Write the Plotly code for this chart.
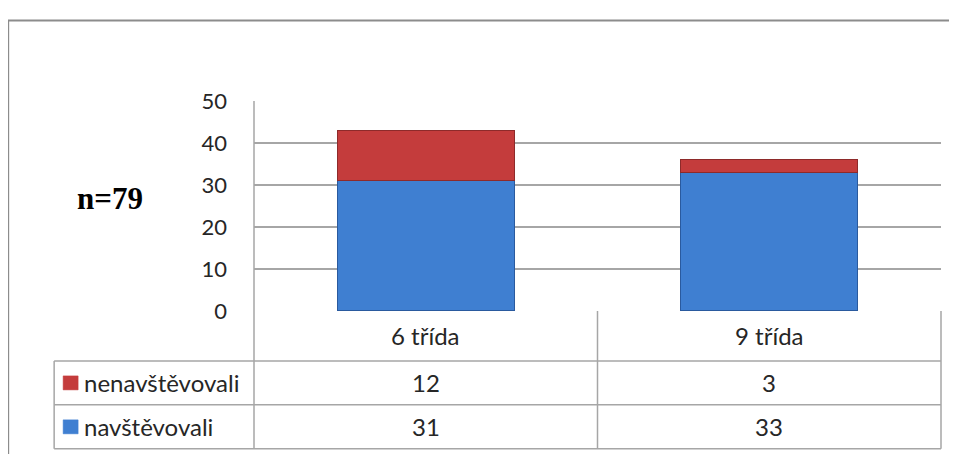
import plotly.graph_objects as go

# Data
categories = ['6 třída', '9 třída']
navstevovali = [31, 33]
nenavstevovali = [12, 3]
y_ticks = [0, 10, 20, 30, 40, 50]
sample_note = 'n=79'

# page has an 8px body margin, so the figure is 8px smaller and shifted
OFF = 8
W, H = 957 - OFF, 454 - OFF
L, R, T, B = 254 - OFF, 941.5 - OFF, 100.7 - OFF, 311 - OFF  # plot area in figure pixels


def px(x):
    return (x - OFF - L) / (R - L)


def py(y):
    return (B - (y - OFF)) / (B - T)


GRID = '#A6A6A6'
TXT = '#262626'
FONT = 'Lato'
RED = '#C43C3C'
BLUE = '#3F7FD1'

fig = go.Figure()
fig.add_trace(go.Bar(x=categories, y=navstevovali, name='navštěvovali',
                     width=0.515,
                     marker=dict(color=BLUE, line=dict(color='#2A5A9E', width=1.2))))
fig.add_trace(go.Bar(x=categories, y=nenavstevovali, name='nenavštěvovali',
                     width=0.515,
                     marker=dict(color=RED, line=dict(color='#8E2A2A', width=1.2))))

shapes = []
# outer frame (cut off at right/bottom)
shapes.append(dict(type='rect', xref='paper', yref='paper',
                   x0=px(8), x1=px(990), y0=py(490), y1=py(20),
                   line=dict(color='#8C8C8C', width=2)))
# left axis line from top gridline to table bottom
shapes.append(dict(type='line', xref='paper', yref='paper',
                   x0=0, x1=0, y0=py(449), y1=1,
                   line=dict(color=GRID, width=1.5)))
# right edge of table
shapes.append(dict(type='line', xref='paper', yref='paper',
                   x0=1, x1=1, y0=py(449), y1=0,
                   line=dict(color=GRID, width=1.5)))
# column divider
shapes.append(dict(type='line', xref='paper', yref='paper',
                   x0=0.5, x1=0.5, y0=py(449), y1=0,
                   line=dict(color=GRID, width=1.5)))
# table left edge
shapes.append(dict(type='line', xref='paper', yref='paper',
                   x0=px(54), x1=px(54), y0=py(449), y1=py(361),
                   line=dict(color=GRID, width=1.5)))
# table row lines
for yy in [361, 405, 449]:
    shapes.append(dict(type='line', xref='paper', yref='paper',
                       x0=px(54), x1=1, y0=py(yy), y1=py(yy),
                       line=dict(color=GRID, width=1.5)))
# legend keys
for yc, col in [(383, RED), (427, BLUE)]:
    shapes.append(dict(type='rect', xref='paper', yref='paper',
                       x0=px(63), x1=px(78), y0=py(yc + 7), y1=py(yc - 7),
                       fillcolor=col, line=dict(color=col, width=0.5)))

tfont = dict(family=FONT, size=24, color=TXT)
annotations = []
for i, cat in enumerate(categories):
    annotations.append(dict(x=i, xref='x', y=py(336), yref='paper', text=cat,
                            xanchor='center', yanchor='middle', showarrow=False, font=tfont))
    annotations.append(dict(x=i, xref='x', y=py(383), yref='paper', text=str(nenavstevovali[i]),
                            xanchor='center', yanchor='middle', showarrow=False, font=tfont))
    annotations.append(dict(x=i, xref='x', y=py(427), yref='paper', text=str(navstevovali[i]),
                            xanchor='center', yanchor='middle', showarrow=False, font=tfont))
annotations.append(dict(x=px(82), xref='paper', y=py(383), yref='paper', text='nenavštěvovali',
                        xanchor='left', yanchor='middle', showarrow=False, font=tfont))
annotations.append(dict(x=px(82), xref='paper', y=py(427), yref='paper', text='navštěvovali',
                        xanchor='left', yanchor='middle', showarrow=False, font=tfont))
annotations.append(dict(x=px(110), xref='paper', y=py(198), yref='paper', text='<b>' + sample_note + '</b>',
                        xanchor='center', yanchor='middle', showarrow=False,
                        font=dict(family='Liberation Serif', size=31, color='black')))

fig.update_layout(
    width=W, height=H,
    barmode='stack',
    showlegend=False,
    paper_bgcolor='white', plot_bgcolor='white',
    margin=dict(l=L, r=W - R, t=T, b=H - B, pad=0),
    xaxis=dict(range=[-0.5, 1.5], showticklabels=False, showgrid=False,
               zeroline=False, showline=False, fixedrange=True),
    yaxis=dict(range=[0, 50], tickvals=y_ticks, showgrid=True, gridcolor=GRID, gridwidth=1.5,
               zeroline=False, showline=False, ticklabelstandoff=26,
               tickfont=dict(family=FONT, size=22, color=TXT)),
    shapes=shapes,
    annotations=annotations,
)

fig.write_html('out.html')
